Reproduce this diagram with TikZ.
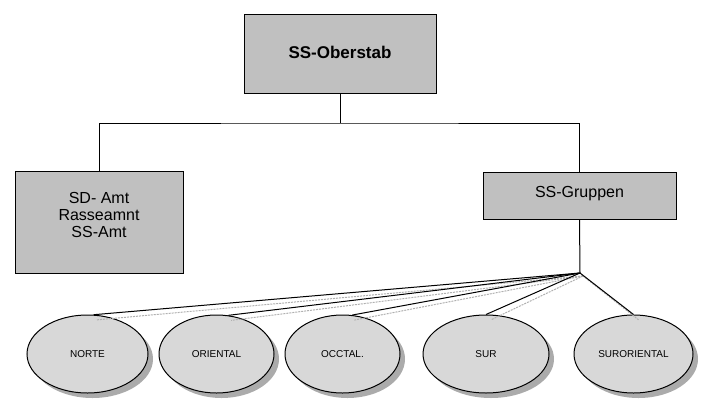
\documentclass[tikz,border=0pt]{standalone}
\usepackage{fontspec}
\setmainfont{Liberation Sans}
\usetikzlibrary{shapes.geometric,calc}
\definecolor{boxgray}{HTML}{C0C0C0}
\definecolor{ellgray}{HTML}{D8D8D8}
\definecolor{shadgray}{HTML}{ABABAB}
\definecolor{linegray}{HTML}{B0B0B0}
\tikzset{
  orgbox/.style={draw=black, line width=1pt, fill=boxgray, rectangle, inner sep=0pt},
  boxtext/.style={font=\fontsize{16}{17}\selectfont, align=center, inner sep=0pt},
  unit/.style={draw=black, line width=1pt, fill=ellgray, ellipse, inner sep=0pt,
    minimum height=78pt, font=\fontsize{10}{11}\selectfont},
  unitshadow/.style={fill=shadgray, ellipse, inner sep=0pt, minimum height=78pt},
  link/.style={draw=black, line width=1pt},
  shadowlink/.style={draw=linegray, line width=1pt, dash pattern=on 2pt off 1pt}
}
\begin{document}
\begin{tikzpicture}[x=1pt,y=-1pt]
\useasboundingbox (0,0) rectangle (714,412);
% boxes
\node[orgbox, minimum width=192pt, minimum height=78pt] (top) at (340,54) {};
\node[boxtext, font=\fontsize{17}{18}\selectfont\bfseries] (toptext) at (340,52) {SS-Oberstab};
\node[orgbox, minimum width=168pt, minimum height=102pt] (left) at (99,222) {};
\node[boxtext] (lefttext) at (99,215) {SD- Amt\\Rasseamnt\\SS-Amt};
\node[orgbox, minimum width=193pt, minimum height=47pt] (right) at (579.5,195.5) {};
\node[boxtext] (righttext) at (579.5,194) {SS-Gruppen};
% tree connectors
\coordinate (bar) at (340,123);
\draw[link] (top.south) -- (bar);
\draw[link] (left.north) |- (bar) -| (right.north);
\coordinate (hub) at (580,273);
\coordinate (hubsh) at (583,276);
\draw[link] (right.south) -- (hub);
% ellipse shadows
\node[unitshadow, minimum width=121pt] (nortesh) at (92.5,359) {};
\node[unitshadow, minimum width=115pt] (orientalsh) at (221.5,359) {};
\node[unitshadow, minimum width=115pt] (occtalsh) at (347.5,359) {};
\node[unitshadow, minimum width=126pt] (sursh) at (491,359) {};
\node[unitshadow, minimum width=119pt] (surorientalsh) at (638.5,359) {};
% ellipses
\node[unit, minimum width=121pt] (norte) at (87.5,354) {NORTE};
\node[unit, minimum width=115pt] (oriental) at (216.5,354) {ORIENTAL};
\node[unit, minimum width=115pt] (occtal) at (342.5,354) {OCCTAL.};
\node[unit, minimum width=126pt] (sur) at (486,354) {SUR};
\node[unit, minimum width=119pt] (suroriental) at (633.5,354) {SURORIENTAL};
% connector shadows
\draw[shadowlink] (hubsh) -- (nortesh.84);
\draw[shadowlink] (hubsh) -- (orientalsh.76);
\draw[shadowlink] (hubsh) -- (occtalsh.80);
\draw[shadowlink] (hubsh) -- (sursh.90);
\draw[shadowlink] (hubsh) -- (surorientalsh.90);
% connectors
\draw[link] (hub) -- (norte.81);
\draw[link] (hub) -- (oriental.73);
\draw[link] (hub) -- (occtal.76);
\draw[link] (hub) -- (sur.90);
\draw[link] (hub) -- (suroriental.90);
\end{tikzpicture}
\end{document}
